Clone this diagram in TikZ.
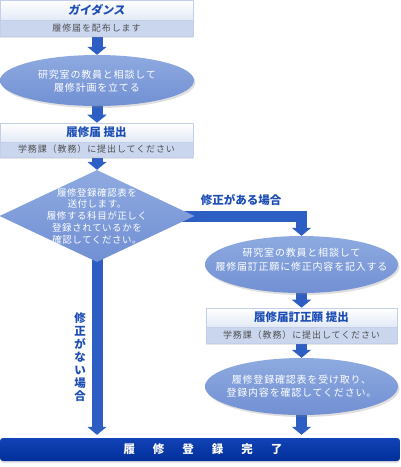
\documentclass[tikz,border=0pt]{standalone}
\usepackage{fontspec}
\setmainfont{Noto Sans CJK JP}
\usetikzlibrary{shapes.geometric,arrows.meta,shadows,backgrounds}
\definecolor{arrowblue}{HTML}{2D5EC4}
\definecolor{titleblue}{HTML}{1B4DB5}
\definecolor{subfill}{HTML}{C9D6EE}
\definecolor{titlebot}{HTML}{E3EAF6}
\definecolor{shapetop}{HTML}{8EAAE0}
\definecolor{shapebot}{HTML}{7190D3}
\definecolor{bartop}{HTML}{1243B6}
\definecolor{barbot}{HTML}{002E9A}
\definecolor{edgeblue}{HTML}{C3CFE8}
\definecolor{subtext}{HTML}{505050}
\begin{document}
\begin{tikzpicture}[x=1pt,y=-1pt,
 band/.style={rectangle, inner sep=0pt, draw=edgeblue, line width=0.6pt},
 titleband/.style={band, top color=white, bottom color=titlebot, text=titleblue,
   font=\bfseries\fontsize{11.5}{13}\selectfont},
 subband/.style={band, fill=subfill, text=subtext,
   font=\fontsize{9}{10}\selectfont\addfontfeatures{LetterSpace=10},
   drop shadow={opacity=0.2, shadow xshift=0pt, shadow yshift=-2pt}},
 oval/.style={ellipse, inner sep=0pt, top color=shapetop, bottom color=shapebot,
   drop shadow={opacity=0.25, shadow xshift=1.5pt, shadow yshift=-2pt}},
 ovaltext/.style={text=white, align=center, inner sep=0pt,
   font=\fontsize{10}{13}\selectfont\addfontfeatures{LetterSpace=8}},
 flow/.style={line width=11pt, draw=arrowblue, line join=miter,
   -{Triangle[width=19pt,length=8pt]}},
 note/.style={text=titleblue, inner sep=0pt,
   font=\bfseries\fontsize{11.5}{13}\selectfont}
]
\useasboundingbox (0,0) rectangle (400,467);

% box 1
\node[titleband, minimum width=193pt, minimum height=20pt] (g1) at (96.5,10)
  {\addfontfeatures{FakeSlant=0.15}ガイダンス};
\node[subband, minimum width=193pt, minimum height=16pt] (g1s) at (96.5,28)
  {履修届を配布します};

% ellipse 1
\node[oval, minimum width=194pt, minimum height=51pt] (e1) at (97,80.5) {};
\node[ovaltext] (e1t) at (97,81) {研究室の教員と相談して\\履修計画を立てる};

% box 2
\node[titleband, minimum width=193pt, minimum height=19pt] (g2) at (96.5,132.5)
  {履修届 提出};
\node[subband, minimum width=193pt, minimum height=15pt] (g2s) at (96.5,149.5)
  {学務課（教務）に提出してください};

% diamond
\node[diamond, minimum width=195pt, minimum height=92pt, inner sep=0pt,
  top color=shapetop, bottom color=shapebot] (d) at (97,216) {};
\node[text=white, align=center, inner sep=0pt,
  font=\fontsize{9.5}{11.7}\selectfont\addfontfeatures{LetterSpace=6}] (dt) at (97,216)
  {履修登録確認表を\\送付します。\\履修する科目が正しく\\登録されているかを\\確認してください。};

% ellipse 2
\node[oval, minimum width=193pt, minimum height=57pt] (e2) at (301.5,264.5) {};
\node[ovaltext, font=\fontsize{10}{14}\selectfont\addfontfeatures{LetterSpace=8}] (e2t) at (301.5,260)
  {研究室の教員と相談して\\履修届訂正願に修正内容を記入する};

% box 3
\node[titleband, minimum width=191pt, minimum height=19pt] (g3) at (301.5,317.5)
  {履修届訂正願 提出};
\node[subband, minimum width=191pt, minimum height=16pt] (g3s) at (301.5,335)
  {学務課（教務）に提出してください};

% ellipse 3
\node[oval, minimum width=193pt, minimum height=57pt] (e3) at (301.5,386.5) {};
\node[ovaltext] (e3t) at (301.5,386.5)
  {履修登録確認表を受け取り、\\登録内容を確認してください。};

% bottom bar
\node[rectangle, rounded corners=3pt, minimum width=400pt, minimum height=23pt,
  inner sep=0pt, top color=bartop, bottom color=barbot, text=white,
  font=\bfseries\fontsize{11.5}{13}\selectfont,
  drop shadow={opacity=0.2, shadow xshift=0pt, shadow yshift=-2pt}] (done) at (200,449.5)
  {\hspace{6pt}履\hspace{18pt}修\hspace{18pt}登\hspace{18pt}録\hspace{18pt}完\hspace{18pt}了};

% labels
\node[note] (yes) at (241,200) {修正がある場合};
\node[note, align=center] (no) at (80,357) {修\\正\\が\\な\\い\\場\\合};

% connectors
\begin{scope}[on background layer]
\draw[flow] (e1.north |- g1s.center) -- (e1.north);
\draw[flow] (e1.center) -- (e1.center |- g2.north);
\draw[flow] (d.north |- g2s.center) -- (d.north);
\draw[flow] (d.center) -| (e2.north);
\draw[flow, shorten >=3pt] (d.center) -- (d.center |- done.north);
\draw[flow] (e2.center) -- (e2.center |- g3.north);
\draw[flow] (e3.north |- g3s.center) -- (e3.north);
\draw[flow, shorten >=3pt] (e3.center) -- (e3.center |- done.north);
\end{scope}
\end{tikzpicture}
\end{document}
